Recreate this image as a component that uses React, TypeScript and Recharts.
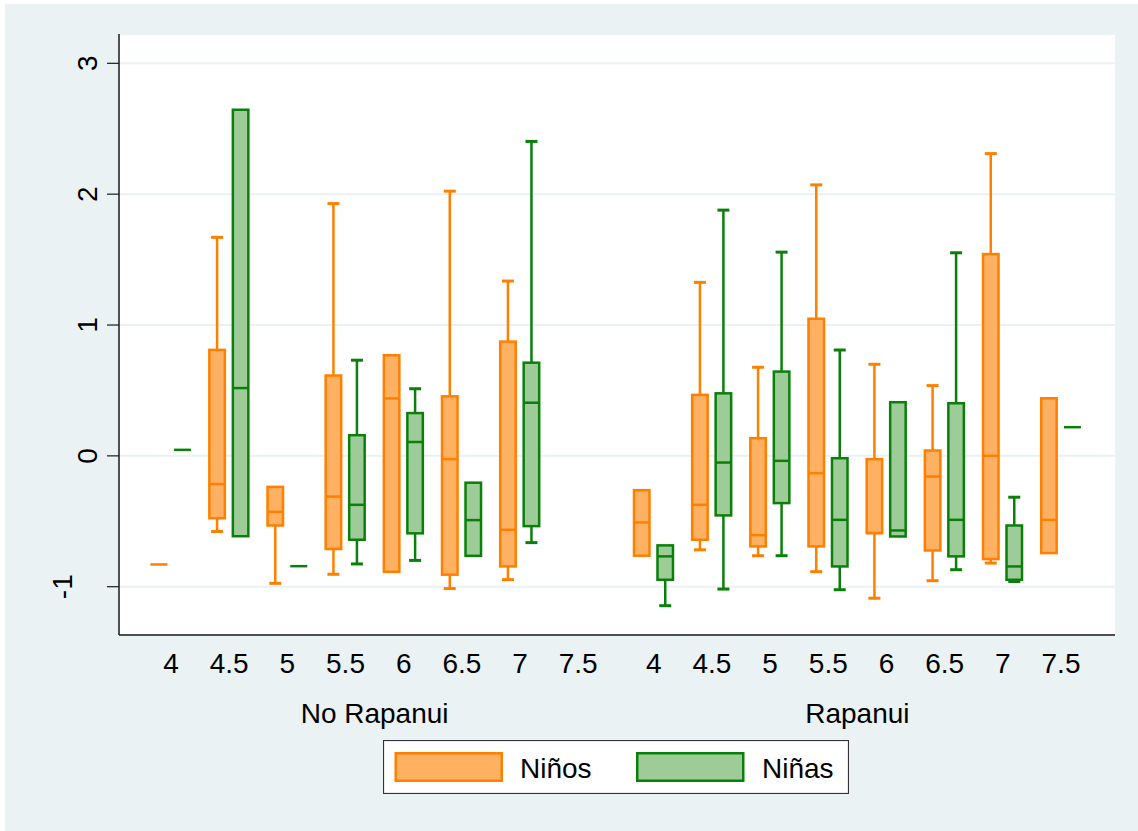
import React from 'react';
import { ComposedChart, Bar, XAxis, YAxis, CartesianGrid } from 'recharts';

// ---- Data ----
const AGES = ['4', '4.5', '5', '5.5', '6', '6.5', '7', '7.5'];
const GROUPS = ['No Rapanui', 'Rapanui'];
const SERIES = ['Niños', 'Niñas'];
const Y_TICKS = [-1, 0, 1, 2, 3];

// each entry: [lower whisker, q1, median, q3, upper whisker]
const NINOS_NO_RAPANUI: (number[] | null)[] = [
  [-0.83, -0.83, -0.83, -0.83, -0.83],
  [-0.578, -0.477, -0.215, 0.81, 1.67],
  [-0.974, -0.532, -0.428, -0.237, -0.237],
  [-0.905, -0.712, -0.311, 0.614, 1.928],
  [-0.886, -0.886, 0.439, 0.769, 0.769],
  [-1.014, -0.908, -0.025, 0.455, 2.023],
  [-0.946, -0.845, -0.565, 0.873, 1.336],
  null,
];
const NINAS_NO_RAPANUI: (number[] | null)[] = [
  [0.046, 0.046, 0.046, 0.046, 0.046],
  [-0.614, -0.614, 0.518, 2.645, 2.645],
  [-0.843, -0.843, -0.843, -0.843, -0.843],
  [-0.826, -0.641, -0.374, 0.158, 0.731],
  [-0.799, -0.592, 0.106, 0.327, 0.513],
  [-0.764, -0.764, -0.491, -0.205, -0.205],
  [-0.663, -0.537, 0.406, 0.712, 2.403],
  null,
];
const NINOS_RAPANUI: (number[] | null)[] = [
  [-0.763, -0.763, -0.509, -0.262, -0.262],
  [-0.718, -0.641, -0.374, 0.466, 1.326],
  [-0.763, -0.692, -0.606, 0.135, 0.677],
  [-0.885, -0.692, -0.132, 1.048, 2.071],
  [-1.088, -0.59, -0.59, -0.025, 0.7],
  [-0.954, -0.723, -0.158, 0.041, 0.537],
  [-0.819, -0.789, 0.0, 1.542, 2.31],
  [-0.743, -0.743, -0.489, 0.44, 0.44],
];
const NINAS_RAPANUI: (number[] | null)[] = [
  [-1.145, -0.947, -0.768, -0.684, -0.684],
  [-1.018, -0.455, -0.051, 0.478, 1.878],
  [-0.763, -0.361, -0.038, 0.644, 1.557],
  [-1.023, -0.845, -0.489, -0.018, 0.809],
  [-0.616, -0.616, -0.57, 0.41, 0.41],
  [-0.87, -0.768, -0.489, 0.402, 1.552],
  [-0.96, -0.947, -0.845, -0.532, -0.316],
  [0.219, 0.219, 0.219, 0.219, 0.219],
];

const NINOS = [NINOS_NO_RAPANUI, NINOS_RAPANUI];
const NINAS = [NINAS_NO_RAPANUI, NINAS_RAPANUI];

// ---- Layout / style ----
const GROUP_GAP = 0.3;
const Y_MIN = -1.369;
const Y_MAX = 3.224;
const X_DOMAIN: [number, number] = [-0.894, 16.228];
const FONT = '"Liberation Sans", Arial, Helvetica, sans-serif';
const BG = '#EAF2F3';
const COLORS = {
  ninos: { stroke: '#FF7F00', fill: '#FFB163' },
  ninas: { stroke: '#0A800A', fill: '#9DCC98' },
};

const rows = GROUPS.flatMap((g, gi) =>
  AGES.map((a, ai) => ({
    pos: gi * (AGES.length + GROUP_GAP) + ai,
    age: a,
    group: g,
    ninos: NINOS[gi][ai],
    ninas: NINAS[gi][ai],
  }))
);
const AGE_TICKS = rows.map((r) => r.pos);
const GROUP_TICKS = GROUPS.map((_, gi) => gi * (AGES.length + GROUP_GAP) + (AGES.length - 1) / 2);

const ageLabel = (v: number) => {
  const r = rows.find((row) => Math.abs(row.pos - v) < 1e-6);
  return r ? r.age : '';
};
const groupLabel = (v: number) => {
  const i = GROUP_TICKS.findIndex((t) => Math.abs(t - v) < 1e-6);
  return i >= 0 ? GROUPS[i] : '';
};

function BoxShape(props: any) {
  const { x, y, width, height, stats, stroke, fill } = props;
  if (!stats) return null;
  const top = Math.min(y, y + height);
  const h = Math.abs(height);
  const py = (v: number) => top + ((Y_MAX - v) / (Y_MAX - Y_MIN)) * h;
  const [lo, q1, med, q3, hi] = stats;
  const sw = 2.5;
  const cx = x + width / 2;
  const capW = 12;
  const eps = 1e-6;
  const els: any[] = [];
  if (hi > q3 + eps) {
    els.push(<line key="wh" x1={cx} x2={cx} y1={py(hi)} y2={py(q3)} stroke={stroke} strokeWidth={sw} />);
    els.push(<line key="ch" x1={cx - capW / 2} x2={cx + capW / 2} y1={py(hi)} y2={py(hi)} stroke={stroke} strokeWidth={sw + 0.5} />);
  }
  if (lo < q1 - eps) {
    els.push(<line key="wl" x1={cx} x2={cx} y1={py(lo)} y2={py(q1)} stroke={stroke} strokeWidth={sw} />);
    els.push(<line key="cl" x1={cx - capW / 2} x2={cx + capW / 2} y1={py(lo)} y2={py(lo)} stroke={stroke} strokeWidth={sw + 0.5} />);
  }
  if (q3 - q1 > eps) {
    els.push(
      <rect key="box" x={x + sw / 2} y={py(q3)} width={width - sw} height={py(q1) - py(q3)} fill={fill} stroke={stroke} strokeWidth={sw} />
    );
    els.push(<line key="med" x1={x + sw / 2} x2={x + width - sw / 2} y1={py(med)} y2={py(med)} stroke={stroke} strokeWidth={sw} />);
  } else {
    els.push(<line key="pt" x1={x + 0.5} x2={x + width - 0.5} y1={py(med)} y2={py(med)} stroke={stroke} strokeWidth={sw} />);
  }
  return <g>{els}</g>;
}

const YTick = (props: any) => {
  const { x, y, payload } = props;
  const label = String(payload.value);
  const bx = label.startsWith('-') ? x - 35 : x - 10;
  return (
    <text x={bx} y={y} transform={`rotate(-90, ${bx}, ${y})`} textAnchor="middle" fontSize={28} fontFamily={FONT} fill="#000">
      {label}
    </text>
  );
};

const AgeTick = (props: any) => {
  const { x, y, payload } = props;
  return (
    <text x={x} y={y + 38} textAnchor="middle" fontSize={28} fontFamily={FONT} fill="#000">
      {ageLabel(payload.value)}
    </text>
  );
};

const GroupTick = (props: any) => {
  const { x, y, payload } = props;
  return (
    <text x={x} y={y + 43} textAnchor="middle" fontSize={28} fontFamily={FONT} fill="#000">
      {groupLabel(payload.value)}
    </text>
  );
};

function LegendBox() {
  return (
    <svg width={466} height={54} style={{ position: 'absolute', left: 383, top: 740 }}>
      <rect x={0.5} y={0.5} width={465} height={53} fill="#fff" stroke="#333" strokeWidth={1.2} />
      <rect x={12.75} y={13.25} width={106} height={27.5} fill={COLORS.ninos.fill} stroke={COLORS.ninos.stroke} strokeWidth={2.5} />
      <text x={137} y={38} fontSize={28} fontFamily={FONT} fill="#000">{SERIES[0]}</text>
      <rect x={254.25} y={13.25} width={106} height={27.5} fill={COLORS.ninas.fill} stroke={COLORS.ninas.stroke} strokeWidth={2.5} />
      <text x={379} y={38} fontSize={28} fontFamily={FONT} fill="#000">{SERIES[1]}</text>
    </svg>
  );
}

export default function App() {
  return (
    <div style={{ position: 'absolute', left: 0, top: 0, width: 1138, height: 831, background: '#fff', overflow: 'hidden' }}>
      <div style={{ position: 'absolute', left: 5, top: 4, width: 1133, height: 827, background: BG }} />
      <div style={{ position: 'absolute', left: 0, top: 0 }}>
        <ComposedChart
          width={1138}
          height={831}
          data={rows}
          margin={{ top: 34, right: 23, bottom: 106, left: 19 }}
          barGap={5.5}
        >
          <CartesianGrid vertical={false} stroke={BG} strokeWidth={2} fill="#fff" fillOpacity={1} />
          <XAxis
            xAxisId="age"
            type="number"
            dataKey="pos"
            domain={X_DOMAIN}
            ticks={AGE_TICKS}
            interval={0}
            allowDataOverflow
            height={45}
            tickSize={0}
            tickMargin={0}
            tickLine={false}
            axisLine={{ stroke: '#1a1a1a', strokeWidth: 1.5 }}
            tick={<AgeTick />}
          />
          <XAxis
            xAxisId="grp"
            type="number"
            dataKey="pos"
            domain={X_DOMAIN}
            ticks={GROUP_TICKS}
            interval={0}
            allowDataOverflow
            height={45}
            tickSize={0}
            tickMargin={0}
            tickLine={false}
            axisLine={false}
            tick={<GroupTick />}
          />
          <YAxis
            type="number"
            domain={[Y_MIN, Y_MAX]}
            ticks={Y_TICKS}
            interval={0}
            allowDataOverflow
            width={100}
            tickSize={12}
            tickMargin={0}
            tickLine={{ stroke: '#1a1a1a', strokeWidth: 1.2 }}
            axisLine={{ stroke: '#1a1a1a', strokeWidth: 1.5 }}
            tick={<YTick />}
          />
          <Bar
            xAxisId="age"
            name={SERIES[0]}
            dataKey={(r: any) => (r.ninos ? [Y_MIN, Y_MAX] : null)}
            barSize={18}
            isAnimationActive={false}
            activeBar={false}
            shape={(p: any) => <BoxShape {...p} stats={p.payload.ninos} stroke={COLORS.ninos.stroke} fill={COLORS.ninos.fill} />}
          />
          <Bar
            xAxisId="age"
            name={SERIES[1]}
            dataKey={(r: any) => (r.ninas ? [Y_MIN, Y_MAX] : null)}
            barSize={18}
            isAnimationActive={false}
            activeBar={false}
            shape={(p: any) => <BoxShape {...p} stats={p.payload.ninas} stroke={COLORS.ninas.stroke} fill={COLORS.ninas.fill} />}
          />
        </ComposedChart>
      </div>
      <LegendBox />
    </div>
  );
}
